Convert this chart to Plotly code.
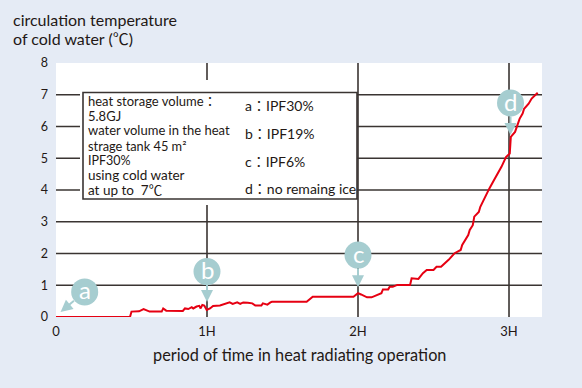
import plotly.graph_objects as go

# ---------------- data ----------------
hours = [0.00, 0.49, 0.50, 0.55, 0.58, 0.62, 0.70, 0.71, 0.73, 0.84, 0.854, 0.876, 0.899, 0.909,
         0.931, 0.949, 0.958, 0.969, 0.982, 0.998, 1.02, 1.04, 1.086, 1.10, 1.15, 1.17, 1.20,
         1.22, 1.24, 1.27, 1.30, 1.32, 1.36, 1.37, 1.40, 1.42, 1.43, 1.66, 1.70, 1.97, 2.00,
         2.02, 2.06, 2.09, 2.12, 2.155, 2.165, 2.20, 2.21, 2.23, 2.26, 2.345, 2.355, 2.40,
         2.43, 2.455, 2.50, 2.52, 2.55, 2.60, 2.64, 2.68, 2.69, 2.71, 2.73, 2.74, 2.76, 2.77,
         2.80, 2.81, 2.83, 2.85, 2.87, 2.90, 2.92, 2.94, 2.95, 2.98, 3.005, 3.012, 3.04, 3.07,
         3.09, 3.10, 3.13, 3.15, 3.18, 3.19]
temps = [0.00, 0.00, 0.17, 0.18, 0.25, 0.17, 0.17, 0.27, 0.20, 0.19, 0.27, 0.25, 0.31, 0.27,
         0.33, 0.35, 0.27, 0.38, 0.36, 0.22, 0.27, 0.35, 0.36, 0.38, 0.46, 0.41, 0.46,
         0.41, 0.46, 0.45, 0.43, 0.36, 0.36, 0.43, 0.39, 0.46, 0.48, 0.48, 0.64, 0.64, 0.75,
         0.71, 0.62, 0.62, 0.69, 0.75, 0.87, 0.87, 0.95, 0.95, 1.01, 1.01, 1.22, 1.20,
         1.38, 1.48, 1.48, 1.58, 1.58, 1.80, 2.01, 2.11, 2.27, 2.43, 2.58, 2.74, 2.89, 3.16,
         3.31, 3.47, 3.68, 3.84, 4.05, 4.31, 4.47, 4.62, 4.73, 5.04, 5.15, 5.67, 5.83, 6.24,
         6.41, 6.56, 6.72, 6.88, 7.04, 7.06]

x_tick_vals = [0, 1, 2, 3]
x_tick_text = ["0", "1H", "2H", "3H"]
y_tick_vals = [0, 1, 2, 3, 4, 5, 6, 7, 8]
y_grid_vals = [1, 2, 3, 4, 5, 6, 7]
x_grid_vals = [1, 2, 3]

markers = ["a", "b", "c", "d"]
marker_x = [0.19, 1.0, 2.0, 3.01]
marker_y = [0.79, 1.43, 1.95, 6.74]
arrow_x = [0.03, 1.0, 2.0, 3.01]
arrow_y = [0.16, 0.47, 0.94, 5.73]

info_lines = ["heat storage volume：", "5.8GJ", "water volume in the heat",
              "strage tank 45 m²", "IPF30%",
              "using cold water", "at up to  7℃"]
legend_labels = ["a：IPF30%", "b：IPF19%", "c：IPF6%", "d：no remaing ice"]

# ---------------- geometry ----------------
W, H = 582, 388
L, R, T, B = 56, 40, 63, 71
PW, PH = W - L - R, H - T - B
X_MAX = 3.2185
Y_MAX = 8.0

def dx(px):
    return (px - L) / PW * X_MAX

def dy(py):
    return (T + PH - py) / PH * Y_MAX

def paper_x(px):
    return (px - L) / PW

def paper_y(py):
    return (T + PH - py) / PH

BG = "#E5EBF5"
GRID = "#3A3432"
RED = "#E60012"
TEAL = "#A6CDD0"
TXT = "#231815"
FONT = "Lato, Noto Sans CJK JP, sans-serif"

fig = go.Figure()
fig.add_trace(go.Scatter(x=hours, y=temps, mode="lines",
                         line=dict(color=RED, width=2), hoverinfo="skip"))

shapes = []
for v in y_grid_vals:
    shapes.append(dict(type="line", xref="paper", yref="y", x0=0, x1=1, y0=v, y1=v,
                       line=dict(color=GRID, width=1.6), layer="below"))
for v in x_grid_vals:
    shapes.append(dict(type="line", xref="x", yref="paper", x0=v, x1=v, y0=0, y1=1,
                       line=dict(color=GRID, width=1.6), layer="below"))
# white backing and bordered info box
shapes.append(dict(type="rect", xref="x", yref="y", x0=dx(80), x1=dx(355), y0=dy(205), y1=dy(80),
                   fillcolor="white", line=dict(width=0), layer="below"))
shapes.append(dict(type="rect", xref="x", yref="y", x0=dx(83), x1=dx(357), y0=dy(199), y1=dy(92.5),
                   fillcolor="white", line=dict(color=GRID, width=1.6), layer="below"))
# marker circles
for mx, my in zip(marker_x, marker_y):
    shapes.append(dict(type="circle", xref="x", yref="y", xsizemode="pixel", ysizemode="pixel",
                       xanchor=mx, yanchor=my, x0=-13.5, x1=13.5, y0=-13.5, y1=13.5,
                       fillcolor=TEAL, line=dict(width=0), layer="above"))

annotations = []
# arrows
for mx, my, ax_, ay_ in zip(marker_x, marker_y, arrow_x, arrow_y):
    annotations.append(dict(x=ax_, y=ay_, xref="x", yref="y", ax=mx, ay=my, axref="x", ayref="y",
                            showarrow=True, arrowhead=2, arrowsize=1.2, arrowwidth=2,
                            arrowcolor=TEAL, text="", standoff=0, startstandoff=12))
# circle letters
for m, mx, my in zip(markers, marker_x, marker_y):
    annotations.append(dict(x=mx, y=my, xref="x", yref="y", text=m, showarrow=False,
                            font=dict(family=FONT, size=24, color="white"), yshift=2))

# info box text
line_py = [101.0, 115.7, 130.4, 145.7, 160.4, 175.1, 190.3]
line_sz = [13, 13, 13, 12.8, 12.5, 13.5, 13.5]
for txt, py, sz in zip(info_lines, line_py, line_sz):
    annotations.append(dict(x=paper_x(86), y=paper_y(py), xref="paper", yref="paper", text=txt,
                            showarrow=False, xanchor="left", yanchor="middle",
                            font=dict(family=FONT, size=sz, color=TXT)))
legend_py = [105, 133, 161, 188]
for txt, py in zip(legend_labels, legend_py):
    annotations.append(dict(x=paper_x(243), y=paper_y(py), xref="paper", yref="paper", text=txt,
                            showarrow=False, xanchor="left", yanchor="middle",
                            font=dict(family=FONT, size=14, color=TXT)))

# titles
annotations.append(dict(x=paper_x(11), y=paper_y(19), xref="paper", yref="paper",
                        text="circulation temperature", showarrow=False, xanchor="left",
                        yanchor="middle", font=dict(family=FONT, size=16, color=TXT)))
annotations.append(dict(x=paper_x(11), y=paper_y(39), xref="paper", yref="paper",
                        text="of cold water (℃)", showarrow=False, xanchor="left",
                        yanchor="middle", font=dict(family=FONT, size=16, color=TXT)))
annotations.append(dict(x=paper_x(299), y=paper_y(354), xref="paper", yref="paper",
                        text="period of time in heat radiating operation", showarrow=False,
                        xanchor="center", yanchor="middle",
                        font=dict(family=FONT, size=16.3, color=TXT)))

fig.update_layout(
    width=W, height=H, margin=dict(l=L, r=R, t=T, b=B, pad=0),
    paper_bgcolor=BG, plot_bgcolor="white", showlegend=False,
    shapes=shapes, annotations=annotations,
    xaxis=dict(range=[0, X_MAX], tickvals=x_tick_vals, ticktext=x_tick_text, showgrid=False,
               zeroline=False, showline=False, ticks="", ticklabelstandoff=5,
               tickfont=dict(family=FONT, size=13, color=TXT), fixedrange=True),
    yaxis=dict(range=[0, Y_MAX], tickvals=y_tick_vals, showgrid=False, zeroline=False,
               showline=False, ticks="", ticklabelstandoff=7,
               tickfont=dict(family=FONT, size=12.5, color=TXT), fixedrange=True),
)

fig.write_html("out.html", config={"displayModeBar": False},
               post_script="document.body.style.margin='0';")
